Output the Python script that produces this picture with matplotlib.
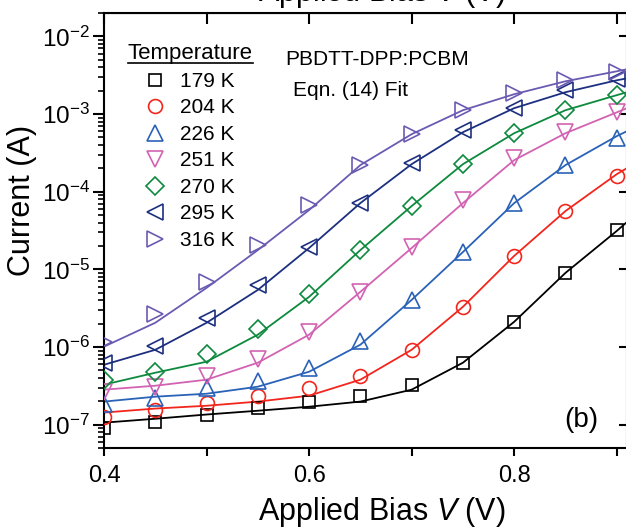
import matplotlib
matplotlib.use("Agg")
import matplotlib.pyplot as plt
from matplotlib.lines import Line2D
from matplotlib.ticker import MultipleLocator, LogLocator, NullFormatter

plt.rcParams['font.family'] = ['Liberation Sans', 'DejaVu Sans']
plt.rcParams['mathtext.fontset'] = 'custom'
plt.rcParams['mathtext.rm'] = 'Liberation Sans'
plt.rcParams['mathtext.it'] = 'Liberation Sans:italic'

# applied bias (V) for measured points
bias = [0.40, 0.45, 0.50, 0.55, 0.60, 0.65, 0.70, 0.75, 0.80, 0.85, 0.90]
# bias for the fit curves (run to the right edge)
bias_fit = [0.40, 0.45, 0.50, 0.55, 0.60, 0.65, 0.70, 0.75, 0.80, 0.85, 0.90, 0.91]

temps = ['179 K', '204 K', '226 K', '251 K', '270 K', '295 K', '316 K']

# measured current (A)
i_179 = [9.1e-8, 1.09e-7, 1.35e-7, 1.66e-7, 1.98e-7, 2.36e-7, 3.27e-7, 6.27e-7, 2.11e-6, 9.0e-6, 3.21e-5]
i_204 = [1.27e-7, 1.56e-7, 1.92e-7, 2.36e-7, 2.99e-7, 4.27e-7, 9.2e-7, 3.29e-6, 1.49e-5, 5.63e-5, 1.59e-4]
i_226 = [1.86e-7, 2.22e-7, 2.99e-7, 3.68e-7, 5.41e-7, 1.20e-6, 4.04e-6, 1.67e-5, 7.13e-5, 2.20e-4, 4.89e-4]
i_251 = [2.65e-7, 3.08e-7, 4.27e-7, 7.05e-7, 1.57e-6, 5.13e-6, 1.94e-5, 7.80e-5, 2.70e-4, 5.83e-4, 1.05e-3]
i_270 = [3.79e-7, 4.80e-7, 8.18e-7, 1.71e-6, 4.83e-6, 1.77e-5, 6.53e-5, 2.26e-4, 5.66e-4, 1.12e-3, 1.75e-3]
i_295 = [6.27e-7, 1.04e-6, 2.37e-6, 6.31e-6, 1.94e-5, 7.13e-5, 2.33e-4, 6.19e-4, 1.19e-3, 2.02e-3, 2.80e-3]
i_316 = [1.17e-6, 2.67e-6, 6.89e-6, 2.06e-5, 6.73e-5, 2.20e-4, 5.50e-4, 1.12e-3, 1.85e-3, 2.72e-3, 3.45e-3]

# Eqn. (14) fit current (A)
f_179 = [1.06e-7, 1.19e-7, 1.35e-7, 1.51e-7, 1.70e-7, 1.98e-7, 2.82e-7, 6.27e-7, 2.11e-6, 9.0e-6, 3.12e-5, 4.07e-5]
f_204 = [1.43e-7, 1.61e-7, 1.75e-7, 1.98e-7, 2.36e-7, 3.79e-7, 9.2e-7, 3.29e-6, 1.49e-5, 5.63e-5, 1.68e-4, 2.01e-4]
f_226 = [1.98e-7, 2.29e-7, 2.50e-7, 3.08e-7, 4.80e-7, 1.07e-6, 4.04e-6, 1.67e-5, 7.13e-5, 2.20e-4, 5.19e-4, 6.01e-4]
f_251 = [2.82e-7, 3.17e-7, 3.79e-7, 6.27e-7, 1.44e-6, 5.13e-6, 1.88e-5, 7.13e-5, 2.55e-4, 5.66e-4, 1.05e-3, 1.19e-3]
f_270 = [3.27e-7, 4.66e-7, 6.46e-7, 1.44e-6, 4.42e-6, 1.77e-5, 6.53e-5, 2.26e-4, 5.66e-4, 1.12e-3, 1.75e-3, 1.91e-3]
f_295 = [5.90e-7, 9.2e-7, 2.05e-6, 5.43e-6, 1.88e-5, 7.13e-5, 2.26e-4, 5.83e-4, 1.19e-3, 1.91e-3, 2.72e-3, 2.88e-3]
f_316 = [1.01e-6, 2.05e-6, 5.77e-6, 1.77e-5, 5.80e-5, 2.20e-4, 5.50e-4, 1.12e-3, 1.80e-3, 2.64e-3, 3.55e-3, 3.77e-3]

measured = [i_179, i_204, i_226, i_251, i_270, i_295, i_316]
fits = [f_179, f_204, f_226, f_251, f_270, f_295, f_316]
colors = ['black', '#f2261d', '#2a62b8', '#d263b2', '#0d8a3d', '#1d3080', '#6b5ab2']
markers = ['s', 'o', '^', 'v', 'D', '<', '>']
msizes = [8.5, 10, 11, 11, 9, 11, 11]

fig = plt.figure(figsize=(6.26, 5.31), dpi=100)
ax = fig.add_axes([104/626, 83/531, 523/626, 435/531])

handles = []
for cur, fit, c, m, ms, lab in zip(measured, fits, colors, markers, msizes, temps):
    ax.plot(bias_fit, fit, '-', color=c, lw=1.3, zorder=2)
    h, = ax.plot(bias, cur, linestyle='none', marker=m, ms=ms, mfc='none',
                 mec=c, mew=1.2, label=lab, zorder=3)
    handles.append(h)

ax.set_yscale('log')
ax.set_xlim(0.4, 0.91)
ax.set_ylim(5e-8, 2e-2)

for s in ax.spines.values():
    s.set_linewidth(1.5)

ax.xaxis.set_major_locator(MultipleLocator(0.2))
ax.xaxis.set_minor_locator(MultipleLocator(0.1))
ax.xaxis.set_major_formatter(plt.FormatStrFormatter('%.1f'))
ax.yaxis.set_major_locator(LogLocator(base=10, numticks=20))
ax.yaxis.set_minor_locator(LogLocator(base=10, subs=range(2, 10), numticks=20))
ax.yaxis.set_minor_formatter(NullFormatter())

ax.tick_params(axis='x', which='both', direction='out', length=6, width=1.5,
               labelsize=17, pad=6)
ax.tick_params(axis='y', which='major', direction='out', length=8, width=1.5,
               labelsize=17.5, pad=2)
ax.tick_params(axis='y', which='minor', direction='out', length=4.5, width=1.2)

# inward ticks on top and right
top = ax.secondary_xaxis('top')
top.xaxis.set_major_locator(MultipleLocator(0.1))
top.tick_params(direction='in', length=8, width=1.5, labeltop=False)
right = ax.secondary_yaxis('right')
right.yaxis.set_major_locator(LogLocator(base=10, numticks=20))
right.yaxis.set_minor_locator(plt.NullLocator())
right.tick_params(direction='in', length=6, width=1.5, labelright=False)

fig.text(22/626, 1 - 200/531, 'Current (A)', rotation=90, fontsize=22,
         ha='center', va='center')
fig.text(382/626, 1 - 520/531, r'Applied Bias $\mathit{V}$ (V)', fontsize=22,
         ha='center', va='baseline')
# x label of the panel above, cut by the crop
fig.text(382/626, 1 - 1/531, r'Applied Bias $\mathit{V}$ (V)', fontsize=22,
         ha='center', va='baseline')

ax.text(0.346, 0.892, 'PBDTT-DPP:PCBM', transform=ax.transAxes, fontsize=15,
        ha='left', va='center')
ax.text(0.361, 0.822, 'Eqn. (14) Fit', transform=ax.transAxes, fontsize=15,
        ha='left', va='center')
ax.text(0.912, 0.064, '(b)', transform=ax.transAxes, fontsize=20,
        ha='center', va='center')

leg = ax.legend(handles=handles, title='Temperature', loc='upper left',
                bbox_to_anchor=(0.045, 0.93), frameon=False, fontsize=15,
                title_fontsize=16, handlelength=1.0, handletextpad=0.7,
                labelspacing=0.36, borderpad=0.0, borderaxespad=0.0)

# underline the legend title
fig.canvas.draw()
r = fig.canvas.get_renderer()
bb = leg.get_title().get_window_extent(r)
fig.add_artist(Line2D([bb.x0 / 626, bb.x1 / 626],
                      [(bb.y0 + 1) / 531, (bb.y0 + 1) / 531],
                      color='black', lw=1.2))

fig.savefig('out.png', dpi=100)
